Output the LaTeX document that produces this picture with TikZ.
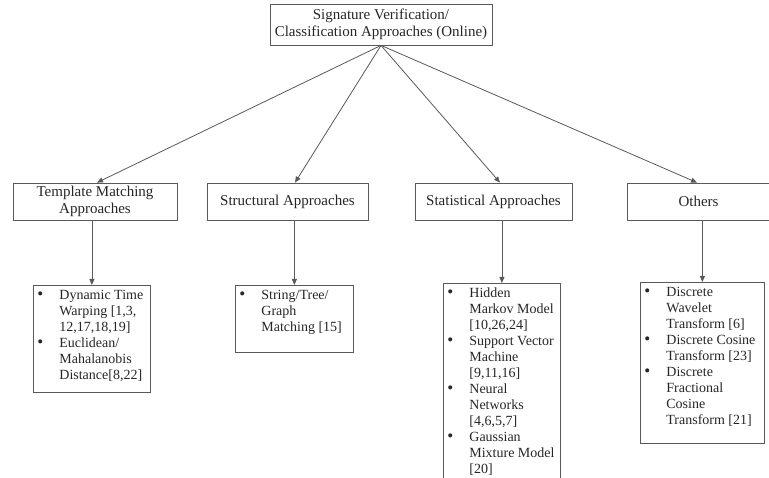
\documentclass[tikz,border=0pt]{standalone}
\usepackage{fontspec}
\setmainfont{Liberation Serif}
\usetikzlibrary{arrows.meta}

\tikzset{
    box/.style={draw=black!65, line width=0.8pt, text=black!85, align=center,
        inner sep=2pt, font=\fontsize{15}{16.5}\selectfont},
    leaf/.style={draw=black!65, line width=0.8pt, text=black!85, anchor=north west,
        inner xsep=4pt, inner ysep=3pt, font=\fontsize{14}{16}\selectfont},
    link/.style={draw=black!65, line width=0.8pt, -{Triangle[length=6pt,width=5pt]}}
}
% bullet list inside a leaf box: width, height, rows
\newcommand{\leaftext}[3]{\parbox[t][#2][t]{#1}{\begin{tabular}[t]{@{}p{22pt}@{}l@{}}#3\end{tabular}}}
\newcommand{\bul}{{\fontsize{17}{16}\selectfont\textbullet}}

\begin{document}
\begin{tikzpicture}[x=1pt, y=-1pt]
    \useasboundingbox (0,0) rectangle (769,478);
    % root
    \node[box, minimum width=222pt, minimum height=41pt] (root) at (381,24.5)
        {Signature Verification/\\Classification Approaches (Online)};
    % approaches
    \node[box, minimum width=164pt, minimum height=37pt] (tmpl) at (95,201.5) {Template Matching\\Approaches};
    \node[box, minimum width=161pt, minimum height=37pt] (strc) at (287.5,201.5) {Structural Approaches};
    \node[box, minimum width=157pt, minimum height=37pt] (stat) at (493.5,201.5) {Statistical Approaches};
    \node[box, minimum width=143pt, minimum height=37pt] (othr) at (698.5,201.5) {Others};
    % methods
    \node[leaf] (dtw) at (33,285) {\leaftext{109pt}{101pt}{%
        \bul & Dynamic Time\\ & Warping [1,3,\\ & 12,17,18,19]\\
        \bul & Euclidean/\\ & Mahalanobis\\ & Distance[8,22]}};
    \node[leaf] (sgm) at (235,285) {\leaftext{110pt}{61pt}{%
        \bul & String/Tree/\\ & Graph\\ & Matching [15]}};
    \node[leaf] (hmm) at (443,283) {\leaftext{109pt}{191pt}{%
        \bul & Hidden\\ & Markov Model\\ & [10,26,24]\\
        \bul & Support Vector\\ & Machine\\ & [9,11,16]\\
        \bul & Neural\\ & Networks\\ & [4,6,5,7]\\
        \bul & Gaussian\\ & Mixture Model\\ & [20]}};
    \node[leaf] (dwt) at (640,282) {\leaftext{116pt}{155pt}{%
        \bul & Discrete\\ & Wavelet\\ & Transform [6]\\
        \bul & Discrete Cosine\\ & Transform [23]\\
        \bul & Discrete\\ & Fractional\\ & Cosine\\ & Transform [21]}};
    % connectors
    \draw[link] (root.south) -- ([xshift=2pt]tmpl.north);
    \draw[link] (root.south) -- ([xshift=7.5pt]strc.north);
    \draw[link] (root.south) -- ([xshift=6.5pt]stat.north);
    \draw[link] (root.south) -- ([xshift=-1.5pt]othr.north);
    \draw[link] (tmpl.south -| dtw.north) -- (dtw.north);
    \draw[link] (strc.south -| sgm.north) -- (sgm.north);
    \draw[link] (stat.south -| hmm.north) -- (hmm.north);
    \draw[link] (othr.south -| dwt.north) -- (dwt.north);
\end{tikzpicture}
\end{document}
